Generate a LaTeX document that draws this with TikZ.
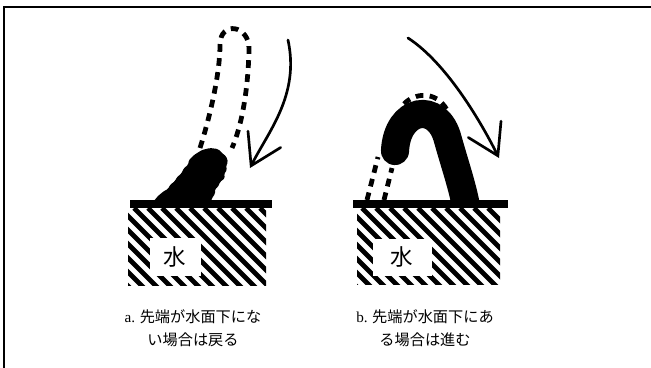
\documentclass[tikz,border=0pt]{standalone}
\usepackage{fontspec}
\setmainfont{Liberation Serif}
\newfontfamily\jpfont{Noto Sans CJK JP}
\usetikzlibrary{arrows.meta}

\tikzset{
  frameline/.style={line width=1.6pt},
  surface/.style={fill=black},
  stripe/.style={line width=3.3pt},
  oldpos/.style={line width=3.4pt, dash pattern=on 5.5pt off 4.5pt},
  motion/.style={line width=1.9pt, line cap=round,
    -{Straight Barb[length=21pt,width=26pt,line cap=round]}},
  water/.style={inner sep=0pt, font=\jpfont\fontsize{16}{16}\selectfont},
  caption/.style={align=center, inner sep=0pt,
    font=\jpfont\fontsize{10.8}{16.3}\selectfont},
}

\begin{document}
\begin{tikzpicture}[x=0.025cm, y=-0.025cm]
  \useasboundingbox (0,0) rectangle (651,368);
  % outer frame (top and left edges only)
  \draw[frameline] (4,368) -- (4,7) -- (651,7);

  % ---- a: tip above the water surface ----
  % stem before the move
  \draw[oldpos] (200,148) .. controls (212,110) and (220,70) .. (220,45)
    .. controls (220,20) and (250,25) .. (249,50)
    .. controls (248,90) and (242,125) .. (232,148);
  % stem after falling back
  \fill[rounded corners=1pt] (153,202) -- (158,196) -- (164,191) -- (168,189)
    -- (170,185) -- (175,181) -- (177,177) -- (181,174) -- (184,168)
    -- (188,165) -- (189,160) -- (194,155) -- (202,150) -- (210,148)
    -- (218,149) -- (223,154) -- (226,156) -- (228,162) -- (226,166)
    -- (227,170) -- (224,174) -- (225,178) -- (220,182) -- (218,187)
    -- (215,189) -- (215,194) -- (212,198) -- (211,202) -- cycle;
  % water
  \begin{scope}
    \clip (128,208) rectangle (266,285);
    \fill[white] (128,208) rectangle (266,285);
    \foreach \s in {50,64,...,270}
      \draw[stripe] (\s,208) -- ++(80,80);
  \end{scope}
  \fill[white] (150,238) rectangle (201,276);
  \node[water] (watera) at (175,257) {水};
  \fill[surface] (130,200) rectangle (272,208);
  % motion
  \coordinate (afrom) at (288,40);
  \coordinate (ato) at (250,168);
  \draw[motion] (afrom) .. controls (300,95) and (268,132) .. (ato);
  \node[caption] (capa) at (193,328)
    {{\rmfamily a.} 先端が水面下にな\\い場合は戻る};

  % ---- b: tip below the water surface ----
  % stem before the move
  \draw[oldpos] (367,200) -- (378,157);
  \draw[oldpos] (384,200) -- (392,168);
  \draw[oldpos] (404,104) .. controls (414,93) and (436,90) .. (447,110);
  % stem after moving on
  \draw[line width=20pt, line cap=round] (395,151)
    .. controls (397,108) and (438,100) .. (448,140)
    .. controls (455,165) and (462,185) .. (466,206);
  % water
  \begin{scope}
    \clip (357,208) rectangle (500,284);
    \fill[white] (357,208) rectangle (500,284);
    \foreach \s in {278,292,...,510}
      \draw[stripe] (\s,208) -- ++(80,80);
  \end{scope}
  \fill[white] (373,239) rectangle (432,276);
  \node[water] (waterb) at (402,257) {水};
  \fill[surface] (353,200) rectangle (508,208);
  % motion
  \coordinate (bfrom) at (408,38);
  \coordinate (bto) at (499,158);
  \draw[motion] (bfrom) .. controls (445,62) and (479,118) .. (bto);
  \node[caption] (capb) at (425,328)
    {{\rmfamily b.} 先端が水面下にあ\\る場合は進む};
\end{tikzpicture}
\end{document}
